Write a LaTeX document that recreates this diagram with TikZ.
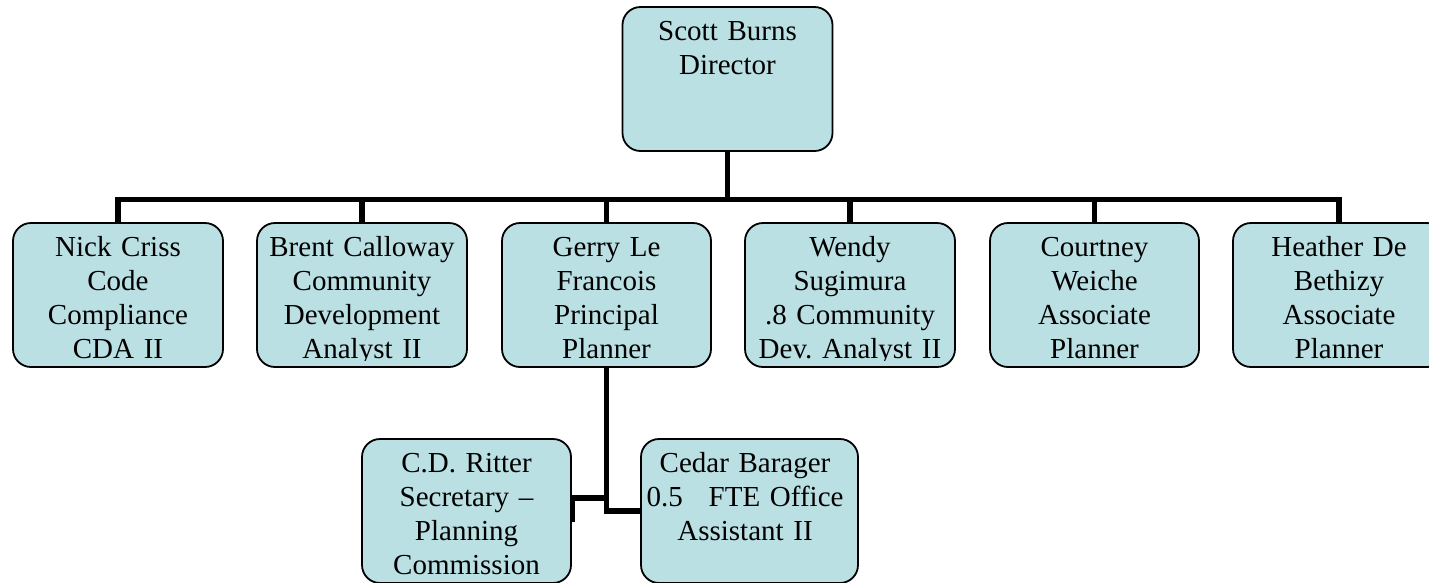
\documentclass[tikz,border=0pt]{standalone}
\usepackage{fontspec}
\setmainfont{Liberation Serif}
\usetikzlibrary{backgrounds}

\definecolor{unitfill}{RGB}{187,224,227}

\tikzset{
  unit/.style={draw=black, line width=1.8pt, fill=unitfill, rounded corners=18pt,
    minimum height=144pt, inner sep=0pt},
  unittext/.style={anchor=base, align=center, text width=250pt, inner sep=0pt,
    font=\fontsize{29}{34}\selectfont\frenchspacing},
  conn/.style={draw=black, line width=5.5pt}
}

% #1 name, #2 centre, #3 width, #4 text offset, #5 lines
\newcommand\orgunit[5]{%
  \node[unit, minimum width=#3] (#1) at (#2) {};
  \begin{scope}
    \clip ([yshift=-4pt]#1.north west) rectangle ([yshift=7pt]#1.south east);
    \node[unittext] (#1-txt) at ([xshift=#4, yshift=-34pt]#1.north) {#5};
  \end{scope}}

\begin{document}
\begin{tikzpicture}[x=1pt, y=-1pt]
  \useasboundingbox (0,0) rectangle (1429,582);
  \clip (0,0) rectangle (1429,582);

  % director
  \orgunit{dir}{727.5,79}{210pt}{0pt}{Scott Burns\\Director}

  % staff row
  \orgunit{nick}{118,295}{210pt}{0pt}{Nick Criss\\Code\\Compliance\\CDA II}
  \orgunit{brent}{362,295}{210pt}{0pt}{Brent Calloway\\Community\\Development\\Analyst II}
  \orgunit{gerry}{606.5,295}{209pt}{0pt}{Gerry Le\\Francois\\Principal\\Planner}
  \orgunit{wendy}{850,295}{210pt}{0pt}{Wendy\\Sugimura\\.8 Community\\Dev. Analyst II}
  \orgunit{courtney}{1094.5,295}{209pt}{0pt}{Courtney\\Weiche\\Associate\\Planner}
  \orgunit{heather}{1339,295}{212pt}{0pt}{Heather De\\Bethizy\\Associate\\Planner}

  % support staff
  \orgunit{ritter}{466.5,511}{209pt}{0pt}{C.D. Ritter\\Secretary –\\Planning\\Commission}
  \orgunit{cedar}{749.5,511}{217pt}{-4.5pt}{Cedar Barager\\0.5\hspace{26pt}FTE Office\\Assistant II}

  % connectors behind the boxes
  \begin{scope}[on background layer]
    \coordinate (bus) at (727.5,199.5);
    \draw[conn] (dir.south) -- (dir.south |- bus);
    \draw[conn] (nick.north) |- (bus) -| (heather.north);
    \foreach \n in {brent,gerry,wendy,courtney}
      \draw[conn] (\n.north) -- (\n.north |- bus);
    \draw[conn] (gerry.south) |- (cedar.west);
    \path (gerry.south) ++(0,130) coordinate (tapL);
    \draw[conn] (tapL) -| ([yshift=-11pt]ritter.east);
  \end{scope}
\end{tikzpicture}
\end{document}
